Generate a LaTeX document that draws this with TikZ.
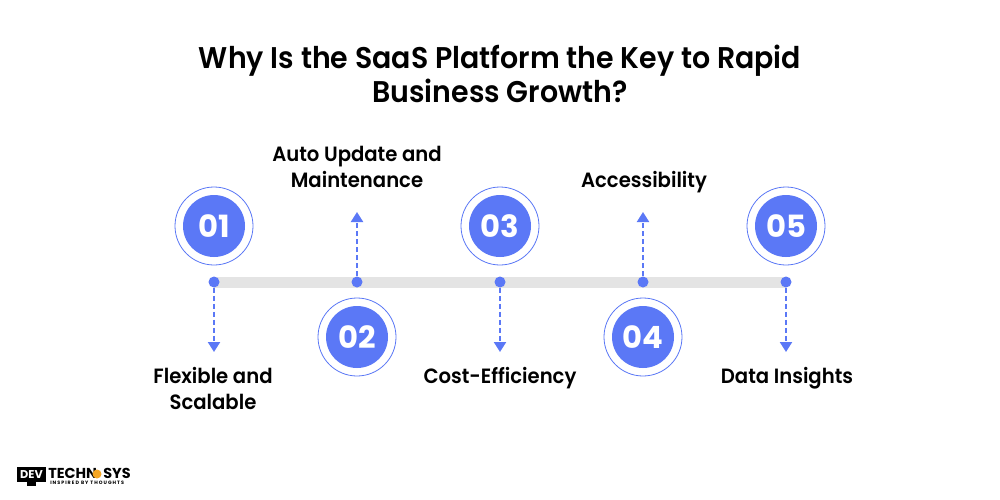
\documentclass[tikz,border=0pt]{standalone}
\usepackage{fontspec}
\setmainfont{Poppins}[BoldFont=Poppins SemiBold,BoldFeatures={FakeStretch=.95}]
\newfontfamily\numfont{Poppins}[BoldFont=Poppins Bold]
\usepackage{xcolor}
\definecolor{bblue}{HTML}{5B78F6}
\definecolor{bbar}{HTML}{E4E4E4}
\definecolor{oorange}{HTML}{F5A623}
\usetikzlibrary{arrows.meta}
\tikzset{
	ring/.style={circle,draw=bblue,line width=.6pt,fill=white,minimum size=58.5pt,inner sep=0pt},
	num/.style={circle,fill=bblue,text=white,minimum size=46.5pt,inner sep=0pt,font=\fontsize{23}{23}\numfont\bfseries},
	dot/.style={circle,fill=bblue,minimum size=8.25pt,inner sep=0pt},
	lead/.style={bblue,line width=1.6pt,dash pattern=on 4pt off 2pt,-{Triangle[length=7.5pt,width=9pt,bblue]}},
	lab/.style={font=\fontsize{15.5}{15.5}\selectfont\bfseries,text=black,inner sep=0pt,anchor=base},
	ttl/.style={font=\fontsize{22.45}{22.45}\selectfont\bfseries,text=black,inner sep=0pt,anchor=base},
	logo/.style={anchor=base west,inner sep=0pt,font=\fontsize{10.8}{10.8}\numfont\bfseries},
}
\begin{document}
\begin{tikzpicture}[x=.75pt,y=-.75pt]
	\useasboundingbox[fill=white] (0,0) rectangle (1000,500);
	\node[ttl] (t1) at (500,68.5) {Why Is the SaaS Platform the Key to Rapid};
	\node[ttl] (t2) at (500,102.5) {Business Growth?};
	\fill[bbar] (214,277) rectangle (786,288);
	\node[dot] (d1) at (214,282) {};
	\node[dot] (d2) at (357,282) {};
	\node[dot] (d3) at (500,282) {};
	\node[dot] (d4) at (643,282) {};
	\node[dot] (d5) at (786,282) {};
	\coordinate (e1) at (214,352);
	\coordinate (e2) at (357,212);
	\coordinate (e3) at (500,352);
	\coordinate (e4) at (643,212);
	\coordinate (e5) at (786,352);
	\foreach \i in {1,...,5}
		\draw[lead] (d\i) -- (e\i);
	\node[ring] at (214,226) {};
	\node[ring] at (357,337) {};
	\node[ring] at (500,226) {};
	\node[ring] at (643,337) {};
	\node[ring] at (786,226) {};
	\node[num] (n1) at (214,226) {01};
	\node[num] (n2) at (357,337) {02};
	\node[num] (n3) at (500,226) {03};
	\node[num] (n4) at (643,337) {04};
	\node[num] (n5) at (786,226) {05};
	\node[lab] (l1a) at (213,383.5) {Flexible and};
	\node[lab] (l1b) at (213,409.5) {Scalable};
	\node[lab] (l2a) at (357,161.5) {Auto Update and};
	\node[lab] (l2b) at (357,187.5) {Maintenance};
	\node[lab] (l3) at (500,383.5) {Cost-Efficiency};
	\node[lab] (l4) at (644,187.5) {Accessibility};
	\node[lab] (l5) at (787,383.5) {Data Insights};
	% logo
	\fill[black] (17,467) rectangle (46,482);
	\fill[black] (27,482) rectangle (36,486);
	\node[text=white,inner sep=0pt,font=\fontsize{8.5}{8.5}\numfont\bfseries] (g1) at (31.5,474.5) {DEV};
	\node[logo] (g2) at (48,478) {TECHN};
	\fill[oorange] (97,474) circle (4.5);
	\node[logo] (g3) at (103,478) {SYS};
	\node[logo,font=\fontsize{3.6}{3.6}\numfont\bfseries] (g4) at (50,484.5) {I N S P I R E D\ \ B Y\ \ T H O U G H T S};
\end{tikzpicture}
\end{document}
